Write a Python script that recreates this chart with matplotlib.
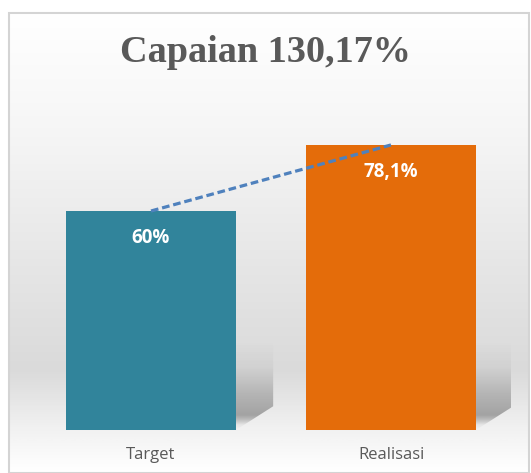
import numpy as np
import matplotlib.pyplot as plt
from matplotlib.patches import Rectangle, Polygon
from matplotlib.colors import LinearSegmentedColormap

# data
categories = ["Target", "Realisasi"]
values = [60, 78.1]
value_labels = ["60%", "78,1%"]
bar_colors = ["#31849B", "#E46C0A"]
title = "Capaian 130,17%"

W, H = 531, 473
fig = plt.figure(figsize=(W / 100, H / 100), dpi=100)

# background with border, drawn in pixel coords
bg = fig.add_axes([0, 0, 1, 1], zorder=0)
bg.set_xlim(0, W)
bg.set_ylim(H, 0)
bg.axis("off")
grad = LinearSegmentedColormap.from_list(
    "bg", [(0, "#ffffff"), (0.25, "#f6f6f6"), (0.78, "#dadada"),
           (0.9, "#f0f0f0"), (1.0, "#ffffff")])
col = np.linspace(0, 1, 300).reshape(-1, 1)
bg.imshow(col, cmap=grad, aspect="auto", extent=(9, 529, 472, 14))
bg.add_patch(Rectangle((8.5, 13.5), 520, 459, fill=False,
                       edgecolor="#d4d4d4", linewidth=1.5))

# main axes
ax = fig.add_axes([31 / W, (H - 430) / H, 480 / W, 365 / H], zorder=1)
ax.patch.set_alpha(0)
x = np.arange(len(categories))
width = 0.708

# soft cast shadows behind the bars
shadow = LinearSegmentedColormap.from_list(
    "sh", [(0, (0.45, 0.45, 0.45, 0.0)), (0.35, (0.45, 0.45, 0.45, 0.08)),
           (0.7, (0.45, 0.45, 0.45, 0.4)), (1, (0.45, 0.45, 0.45, 0.6))])
for xi in x:
    right = xi + width / 2
    left = xi - width / 2
    dx = 0.155
    poly = Polygon([(left, 0), (right, 0), (right + dx, 6.5),
                    (right + dx, 24), (left + dx, 24)], closed=True,
                   facecolor="none", edgecolor="none")
    ax.add_patch(poly)
    sh = ax.imshow(np.linspace(0, 1, 100).reshape(-1, 1), cmap=shadow,
                   aspect="auto", extent=(left, right + dx, 4, 24),
                   zorder=1, origin="upper", interpolation="bilinear")
    sh.set_clip_path(poly)
    low = ax.imshow(np.linspace(1, 0.3, 100).reshape(-1, 1), cmap=shadow,
                    aspect="auto", extent=(left, right + dx, 0, 4),
                    zorder=1, origin="upper", interpolation="bilinear")
    low.set_clip_path(poly)

ax.bar(x, values, width=width, color=bar_colors, zorder=2)
ax.plot(x, values, linestyle=(0, (2.4, 1.2)), color="#4F81BD",
        linewidth=2.3, zorder=3)

for xi, v, lab in zip(x, values, value_labels):
    ax.text(xi, v - 7.5, lab, ha="center", va="center", color="white",
            fontsize=13.5, fontweight="bold", family="Open Sans", zorder=4)

ax.set_xlim(-0.5, 1.5)
ax.set_ylim(0, 100)
ax.set_xticks(x)
ax.set_xticklabels(categories, fontsize=12, color="#595959",
                   family="Open Sans")
ax.tick_params(axis="x", length=0, pad=12)
ax.set_yticks([])
for s in ax.spines.values():
    s.set_visible(False)

fig.text(265 / W, 1 - 52 / H, title, ha="center", va="center",
         fontsize=27.5, fontweight="bold", family="Liberation Serif",
         color="#595959")

fig.savefig("out.png", dpi=100)
